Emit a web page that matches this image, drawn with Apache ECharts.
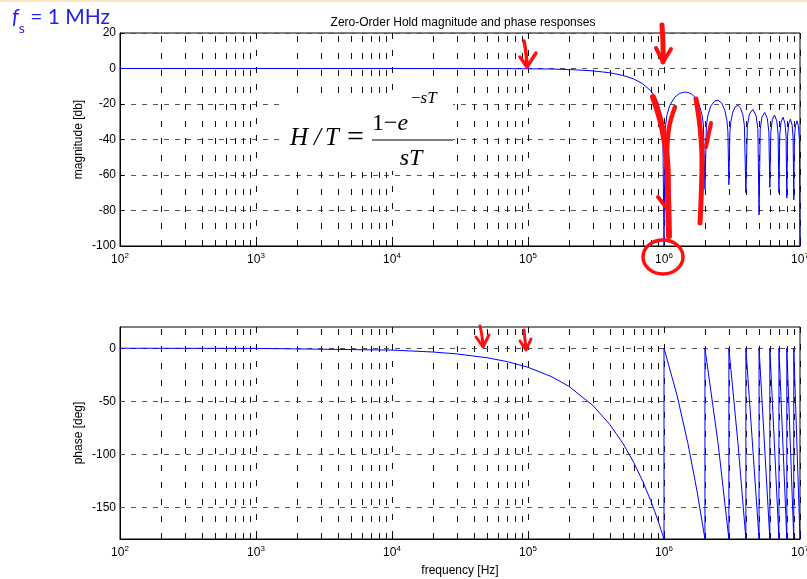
<!DOCTYPE html>
<html><head><meta charset="utf-8">
<script src="https://cdn.jsdelivr.net/npm/echarts@6/dist/echarts.min.js"></script>
<style>html,body{margin:0;padding:0;background:#fff}#c{width:807px;height:579px}</style>
</head><body><div id="c"></div>
<script>
// ---- data ----
const magFreq = [
  100, 1000, 10000, 50000, 100000, 150000, 200000, 300000, 400000, 500000,
  600000, 700000, 800000, 850000, 900000, 950000, 980000, 1000000,
  1020000, 1050000, 1100000, 1200000, 1300000, 1400000, 1500000, 1600000, 1700000, 1800000, 1900000, 1950000, 2000000,
  2050000, 2100000, 2200000, 2350000, 2500000, 2650000, 2800000, 2900000, 2950000, 3000000,
  3050000, 3100000, 3200000, 3350000, 3500000, 3650000, 3800000, 3900000, 4000000,
  4100000, 4250000, 4500000, 4750000, 4900000, 5000000,
  5100000, 5250000, 5500000, 5750000, 5900000, 6000000,
  6100000, 6250000, 6500000, 6750000, 6900000, 7000000,
  7100000, 7250000, 7500000, 7750000, 7900000, 8000000,
  8100000, 8250000, 8500000, 8750000, 8900000, 9000000,
  9100000, 9250000, 9500000, 9750000, 9900000, 10000000
];
const magDb = [
  0, 0, -0.001, -0.036, -0.143, -0.324, -0.579, -1.326, -2.42, -3.922,
  -5.942, -8.686, -12.62, -15.39, -19.23, -25.61, -33.81, -100,
  -34.16, -26.48, -20.97, -16.14, -14.06, -13.30, -13.46, -14.46, -16.39, -19.66, -25.72, -31.86, -68,
  -32.29, -26.59, -21.41, -18.37, -17.90, -19.41, -23.50, -29.39, -35.45, -65.5,
  -35.74, -29.97, -24.66, -21.45, -20.82, -22.19, -26.15, -31.96, -70,
  -32.40, -25.52, -23.01, -26.49, -33.95, -82.5,
  -34.29, -27.36, -24.75, -28.15, -35.56, -67,
  -35.85, -28.87, -26.20, -29.54, -36.92, -70,
  -37.17, -30.16, -27.44, -30.74, -38.10, -73,
  -38.31, -31.28, -28.53, -31.79, -39.13, -74,
  -39.32, -32.28, -29.50, -32.73, -40.06, -100
];
const phaseFreq = [
  100, 1000, 10000, 20000, 30000, 50000, 70000, 100000, 150000, 200000,
  300000, 400000, 500000, 600000, 700000, 800000, 900000, 1000000,
  1000000, 1250000, 1500000, 1750000, 2000000,
  2000000, 2500000, 3000000,
  3000000, 3500000, 4000000,
  4000000, 5000000, 5000000, 6000000, 6000000, 7000000, 7000000,
  8000000, 8000000, 9000000, 9000000, 10000000
];
const phaseDeg = [
  -0.018, -0.18, -1.8, -3.6, -5.4, -9, -12.6, -18, -27, -36,
  -54, -72, -90, -108, -126, -144, -162, -180,
  0, -45, -90, -135, -180,
  0, -90, -180,
  0, -90, -180,
  0, -180, 0, -180, 0, -180, 0,
  -180, 0, -180, 0, -180
];
const minorFreq = [
  200, 300, 400, 500, 600, 700, 800, 900,
  2000, 3000, 4000, 5000, 6000, 7000, 8000, 9000,
  20000, 30000, 40000, 50000, 60000, 70000, 80000, 90000,
  200000, 300000, 400000, 500000, 600000, 700000, 800000, 900000,
  2000000, 3000000, 4000000, 5000000, 6000000, 7000000, 8000000, 9000000
];
const phaseTicks = [0, -50, -100, -150];
const titleText = 'Zero-Order Hold magnitude and phase responses';

// ---- chart ----
const FONT = '"Liberation Sans", Arial, sans-serif';
const SERIF = '"Liberation Serif", "Times New Roman", serif';
const BLUEFONT = 'Lato, "Open Sans", sans-serif';
const RED = '#ff1010';
function expLabel(v) { return '{b|10}{e|' + Math.round(Math.log10(v)) + '}'; }
const xLabelStyle = {
  formatter: expLabel, margin: 6,
  rich: {
    b: { fontSize: 12, fontFamily: FONT, color: '#000', lineHeight: 16, verticalAlign: 'middle' },
    e: { fontSize: 8, fontFamily: FONT, color: '#000', lineHeight: 9, verticalAlign: 'top' }
  }
};
const vGrid = { color: '#111', type: [6, 11], width: 1 };
const hGrid = { color: '#555', type: [5, 6], width: 1 };
function xAxisDef(gi, name) {
  return {
    type: 'log', logBase: 10, gridIndex: gi, min: 100, max: 10000000,
    axisLine: { show: true, onZero: false, lineStyle: { color: '#000', width: 1 } },
    axisTick: { show: true, inside: true, length: 4, lineStyle: { color: '#000' } },
    axisLabel: xLabelStyle,
    splitLine: { show: true, lineStyle: vGrid },
    name: name, nameLocation: 'middle', nameGap: 26, nameMoveOverlap: false,
    nameTextStyle: { fontSize: 12, fontFamily: FONT, color: '#000' }
  };
}
const minorLines = minorFreq.map(f => ({ xAxis: f }));
const redStroke = w => ({ stroke: RED, lineWidth: w, fill: null, lineCap: 'round', lineJoin: 'round' });
const chart = echarts.init(document.getElementById('c'), null, { renderer: 'canvas' });
chart.setOption({
  animation: false,
  backgroundColor: '#fff',
  title: {
    text: titleText, left: 458, top: 12, textAlign: 'center',
    textStyle: { fontSize: 12, fontWeight: 'normal', fontFamily: FONT, color: '#000' }
  },
  grid: [
    { left: 120, top: 33, width: 680, height: 213, show: true, borderColor: '#000', borderWidth: 1, backgroundColor: '#fff', containLabel: false, outerBoundsMode: 'none' },
    { left: 120, top: 327, width: 680, height: 212, show: true, borderColor: '#000', borderWidth: 1, backgroundColor: '#fff', containLabel: false, outerBoundsMode: 'none' }
  ],
  xAxis: [xAxisDef(0, ''), xAxisDef(1, 'frequency [Hz]')],
  yAxis: [
    {
      type: 'value', gridIndex: 0, min: -100, max: 20, interval: 20,
      axisLine: { show: true, lineStyle: { color: '#000' } },
      axisTick: { show: true, inside: true, length: 4, lineStyle: { color: '#000' } },
      axisLabel: { fontSize: 12, fontFamily: FONT, color: '#000', margin: 4 },
      splitLine: { show: true, lineStyle: hGrid },
      name: 'magnitude [db]', nameLocation: 'middle', nameGap: 35, nameMoveOverlap: false,
      nameTextStyle: { fontSize: 12, fontFamily: FONT, color: '#000' }
    },
    {
      type: 'value', gridIndex: 1, min: -180, max: 20, interval: 10,
      axisLine: { show: true, lineStyle: { color: '#000' } },
      axisTick: { show: false },
      axisLabel: {
        fontSize: 12, fontFamily: FONT, color: '#000', margin: 4,
        formatter: v => (phaseTicks.indexOf(v) >= 0 ? String(v) : '')
      },
      splitLine: { show: false },
      name: 'phase [deg]', nameLocation: 'middle', nameGap: 35, nameMoveOverlap: false,
      nameTextStyle: { fontSize: 12, fontFamily: FONT, color: '#000' }
    }
  ],
  series: [
    {
      type: 'line', xAxisIndex: 0, yAxisIndex: 0, z: 3,
      data: magFreq.map((f, i) => [f, magDb[i]]),
      symbol: 'none', showSymbol: false, clip: true,
      lineStyle: { color: '#0000ff', width: 1 },
      markLine: {
        silent: true, z: 1, symbol: ['none', 'none'], animation: false,
        label: { show: false }, lineStyle: vGrid, emphasis: { disabled: true },
        data: minorLines
      }
    },
    {
      type: 'line', xAxisIndex: 1, yAxisIndex: 1, z: 3,
      data: phaseFreq.map((f, i) => [f, phaseDeg[i]]),
      symbol: 'none', showSymbol: false, clip: true,
      lineStyle: { color: '#0000ff', width: 1 },
      markLine: {
        silent: true, z: 1, symbol: ['none', 'none'], animation: false,
        label: { show: false }, lineStyle: vGrid, emphasis: { disabled: true },
        data: minorLines.concat(phaseTicks.map(v => ({ yAxis: v, lineStyle: hGrid })))
      }
    }
  ],
  graphic: { elements: [
    { type: 'rect', shape: { x: 0, y: 0, width: 807, height: 2 }, style: { fill: '#fbe3c4' }, z: 50 },
    { type: 'text', x: 12, y: 19, z: 60, style: {
        text: '{f|f}{s|s}{r| = 1 MHz}', verticalAlign: 'middle', fill: '#2222ee',
        rich: {
          f: { fontFamily: BLUEFONT, fontStyle: 'italic', fontSize: 21, fill: '#2222ee', verticalAlign: 'top', lineHeight: 24 },
          s: { fontFamily: BLUEFONT, fontSize: 14, fill: '#2222ee', verticalAlign: 'bottom', lineHeight: 14, padding: [0, 0, -4, 0] },
          r: { fontFamily: BLUEFONT, fontSize: 21, fill: '#2222ee', verticalAlign: 'top', lineHeight: 24 }
        } } },
    // formula
    { type: 'rect', shape: { x: 284, y: 96, width: 169, height: 75 }, style: { fill: '#fff' }, z: 40 },
    { type: 'rect', shape: { x: 409, y: 85, width: 36, height: 14 }, style: { fill: '#fff' }, z: 40 },
    { type: 'text', x: 290, y: 138, z: 41, style: { text: 'H', font: 'italic 25px ' + SERIF, fill: '#000', verticalAlign: 'middle' } },
    { type: 'text', x: 314, y: 138, z: 41, style: { text: '/', font: 'italic 25px ' + SERIF, fill: '#000', verticalAlign: 'middle' } },
    { type: 'text', x: 325, y: 138, z: 41, style: { text: 'T', font: 'italic 25px ' + SERIF, fill: '#000', verticalAlign: 'middle' } },
    { type: 'text', x: 347, y: 138, z: 41, style: { text: '=', font: '30px ' + SERIF, fill: '#000', verticalAlign: 'middle' } },
    { type: 'text', x: 372, y: 124, z: 41, style: { text: '{n|1\u2212}{i|e}', verticalAlign: 'middle',
        rich: { n: { font: '24px ' + SERIF, fill: '#000' }, i: { font: 'italic 24px ' + SERIF, fill: '#000' } } } },
    { type: 'text', x: 411, y: 99, z: 41, style: { text: '{n|\u2212}{i|sT}', verticalAlign: 'middle',
        rich: { n: { font: '17px ' + SERIF, fill: '#000' }, i: { font: 'italic 17px ' + SERIF, fill: '#000' } } } },
    { type: 'line', z: 41, shape: { x1: 372, y1: 140, x2: 453, y2: 140 }, style: { stroke: '#000', lineWidth: 1.2 } },
    { type: 'text', x: 411, y: 159, z: 41, style: { text: 'sT', font: 'italic 24px ' + SERIF, fill: '#000', align: 'center', verticalAlign: 'middle' } },
    // red annotations
    { type: 'polyline', z: 70, shape: { points: [[524, 41], [526, 53], [527, 66]], smooth: 0.4 }, style: redStroke(3.5) },
    { type: 'polyline', z: 70, shape: { points: [[520, 57], [527, 67], [536, 53]] }, style: redStroke(3.5) },
    { type: 'polyline', z: 70, shape: { points: [[662, 25], [663, 45], [663, 62]], smooth: 0.4 }, style: redStroke(5) },
    { type: 'polyline', z: 70, shape: { points: [[656, 48], [663, 62], [671, 49]] }, style: redStroke(4) },
    { type: 'polyline', z: 70, shape: { points: [[653, 97], [662, 127], [667, 160], [668, 195], [669, 236]], smooth: 0.4 }, style: redStroke(6) },
    { type: 'polyline', z: 70, shape: { points: [[675, 107], [669, 128], [667, 160], [669, 208]], smooth: 0.4 }, style: redStroke(4.5) },
    { type: 'polyline', z: 70, shape: { points: [[658, 197], [669, 211]] }, style: redStroke(4) },
    { type: 'polyline', z: 70, shape: { points: [[696, 99], [700, 127], [702, 160], [700, 223]], smooth: 0.4 }, style: redStroke(5) },
    { type: 'polyline', z: 70, shape: { points: [[711, 123], [706, 147]] }, style: redStroke(4) },
    { type: 'ellipse', z: 70, shape: { cx: 663, cy: 257, rx: 20, ry: 17 }, style: { stroke: RED, lineWidth: 3.5, fill: null } },
    { type: 'polyline', z: 70, shape: { points: [[480, 326], [482, 336], [483, 346]], smooth: 0.4 }, style: redStroke(3) },
    { type: 'polyline', z: 70, shape: { points: [[476, 337], [483, 347], [489, 335]] }, style: redStroke(3) },
    { type: 'polyline', z: 70, shape: { points: [[524, 330], [525, 340], [526, 349]], smooth: 0.4 }, style: redStroke(3) },
    { type: 'polyline', z: 70, shape: { points: [[520, 341], [526, 350], [531, 339]] }, style: redStroke(3) }
  ] }
});
</script></body></html>
